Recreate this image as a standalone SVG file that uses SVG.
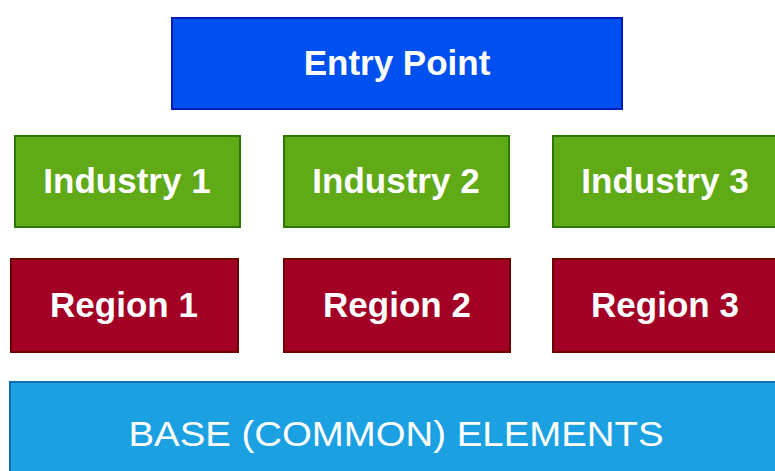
<svg xmlns="http://www.w3.org/2000/svg" width="775" height="471" viewBox="0 0 775 471">
<style>
.t{font-family:"Liberation Sans",Arial,sans-serif;font-weight:bold;font-size:35px;fill:#fff;text-anchor:middle}
.blue{fill:#0050ef;stroke:#001dbc;stroke-width:2}
.green{fill:#60a917;stroke:#2d7600;stroke-width:2}
.red{fill:#a20025;stroke:#6f0000;stroke-width:2}
.base{fill:#1ba1e2;stroke:#006eaf;stroke-width:2}
</style>
<rect width="775" height="471" fill="#fff"/>
<g id="entry"><rect class="blue" x="172" y="18" width="450" height="91"/><text class="t" x="397" y="75">Entry Point</text></g>
<g id="industry1"><rect class="green" x="15" y="136" width="225" height="91"/><text class="t" x="127" y="193">Industry 1</text></g>
<g id="industry2"><rect class="green" x="284" y="136" width="225" height="91"/><text class="t" x="396" y="193">Industry 2</text></g>
<g id="industry3"><rect class="green" x="553" y="136" width="225" height="91"/><text class="t" x="665" y="193">Industry 3</text></g>
<g id="region1"><rect class="red" x="11" y="259" width="227" height="93"/><text class="t" x="124" y="317">Region 1</text></g>
<g id="region2"><rect class="red" x="284" y="259" width="226" height="93"/><text class="t" x="397" y="317">Region 2</text></g>
<g id="region3"><rect class="red" x="553" y="259" width="226" height="93"/><text class="t" x="665" y="317">Region 3</text></g>
<g id="base"><rect class="base" x="10" y="382" width="770" height="95"/><text class="t" x="396" y="446" font-size="36" style="font-weight:normal" textLength="535" lengthAdjust="spacingAndGlyphs">BASE (COMMON) ELEMENTS</text></g>
<g id="connectors"></g>
</svg>
